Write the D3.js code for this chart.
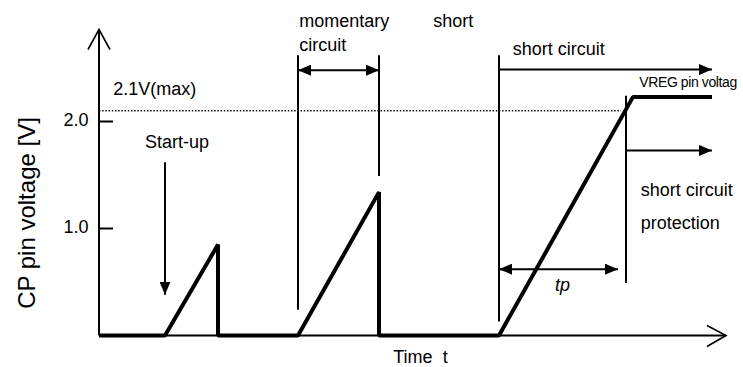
<!DOCTYPE html>
<html>
<head>
<meta charset="utf-8">
<script src="https://cdn.jsdelivr.net/npm/d3@7"></script>
<style>
  html, body { margin: 0; padding: 0; background: #fff; }
  svg { display: block; }
  text { font-family: "Liberation Sans", Arial, sans-serif; fill: #000; }
</style>
</head>
<body>
<svg id="chart" width="743" height="367"></svg>
<script>
// CP pin voltage waveform: time points and voltages (V)
const waveTime    = [0, 13.2, 23.8, 23.8, 39.8, 56, 56, 80, 106.8, 122.6];
const waveVoltage = [0, 0, 0.85, 0, 0, 1.34, 0, 0, 2.23, 2.23];

// Y-axis ticks and their labels
const yTicks = [1.0, 2.0];
const yTickLabels = ["1.0", "2.0"];

// Clamp threshold shown as a dotted level
const maxLevel = 2.1;
const maxLabel = "2.1V(max)";

// Event times used by the annotations
const tStartup = 13.2;
const tMomentStart = 39.8;
const tMomentEnd = 56;
const tShort = 80;
const tTpEnd = 103.8;
const tProtect = 105.4;
const tArrowEnd = 122.6;
const tDottedEnd = 104.4;
const tAxisEnd = 125;

const svg = d3.select("#chart");

const x = d3.scaleLinear().domain([0, 125]).range([99, 724]);
const y = d3.scaleLinear().domain([0, 3]).range([335.5, 14.5]);

// Arrowhead marker
const defs = svg.append("defs");
defs.append("marker")
  .attr("id", "head")
  .attr("viewBox", "0 0 13 11")
  .attr("refX", 13).attr("refY", 5.5)
  .attr("markerWidth", 13).attr("markerHeight", 11)
  .attr("markerUnits", "userSpaceOnUse")
  .attr("orient", "auto-start-reverse")
  .append("path").attr("d", "M0,0 L13,5.5 L0,11 Z").attr("fill", "#000");

// Axes
const axes = svg.append("g").attr("stroke", "#000").attr("fill", "none");
axes.append("line")
  .attr("x1", x(0)).attr("y1", y(0)).attr("x2", x(0)).attr("y2", y(0) - 306)
  .attr("stroke-width", 2);
axes.append("path")
  .attr("d", `M${x(0) - 11},${y(0) - 286} L${x(0)},${y(0) - 306} L${x(0) + 11},${y(0) - 286}`)
  .attr("stroke-width", 1.6);
axes.append("line")
  .attr("x1", x(0)).attr("y1", y(0)).attr("x2", x(tAxisEnd) + 2).attr("y2", y(0))
  .attr("stroke-width", 2);
axes.append("path")
  .attr("d", `M${x(tAxisEnd) - 17},${y(0) - 10} L${x(tAxisEnd) + 2},${y(0)} L${x(tAxisEnd) - 17},${y(0) + 11}`)
  .attr("stroke-width", 1.6);

// Y ticks and labels
yTicks.forEach((v, i) => {
  axes.append("line")
    .attr("x1", x(0)).attr("x2", x(0) + 14)
    .attr("y1", y(v)).attr("y2", y(v))
    .attr("stroke-width", 2);
  svg.append("text")
    .attr("x", 88.5).attr("y", y(v) + 4)
    .attr("text-anchor", "end")
    .attr("font-size", 18)
    .text(yTickLabels[i]);
});

// Y-axis title
svg.append("text")
  .attr("transform", "translate(35,213) rotate(-90)")
  .attr("text-anchor", "middle")
  .attr("font-size", 24)
  .text("CP pin voltage [V]");

// X-axis title
svg.append("text")
  .attr("x", 393.3).attr("y", 362.7)
  .attr("font-size", 18)
  .style("white-space", "pre")
  .text("Time  t");

// Dotted max level
svg.append("line")
  .attr("x1", x(0)).attr("x2", x(tDottedEnd))
  .attr("y1", y(maxLevel)).attr("y2", y(maxLevel))
  .attr("stroke", "#000").attr("stroke-width", 1.4)
  .attr("stroke-dasharray", "1.4,1.8");
svg.append("text")
  .attr("x", 113.3).attr("y", 95)
  .attr("font-size", 18)
  .text(maxLabel);

// Annotation lines
const ann = svg.append("g").attr("stroke", "#000").attr("stroke-width", 2).attr("fill", "none");
function vline(t, v1, v2) {
  ann.append("line").attr("x1", x(t)).attr("x2", x(t)).attr("y1", y(v1)).attr("y2", y(v2));
}
function arrow(t1, v1, t2, v2, both) {
  const l = ann.append("line")
    .attr("x1", x(t1)).attr("y1", y(v1)).attr("x2", x(t2)).attr("y2", y(v2))
    .attr("marker-end", "url(#head)");
  if (both) l.attr("marker-start", "url(#head)");
}

// Start-up arrow
arrow(tStartup, 1.62, tStartup, 0.38, false);
// Momentary short circuit span
vline(tMomentStart, 2.62, 0.24);
vline(tMomentEnd, 2.62, 1.49);
arrow(tMomentStart, 2.48, tMomentEnd, 2.48, true);
// Sustained short circuit
vline(tShort, 2.62, 0.13);
arrow(tShort, 2.485, tArrowEnd, 2.485, false);
// Protection trigger
vline(tProtect, 2.24, 0.49);
arrow(tProtect, 1.73, tArrowEnd, 1.73, false);
// tp span
arrow(tShort, 0.62, tTpEnd, 0.62, true);

// Waveform
const line = d3.line().x(d => x(d[0])).y(d => y(d[1]));
svg.append("path")
  .datum(waveTime.map((t, i) => [t, waveVoltage[i]]))
  .attr("d", line)
  .attr("fill", "none")
  .attr("stroke", "#000")
  .attr("stroke-width", 4)
  .attr("stroke-linejoin", "bevel");

// Annotation texts
const labels = [
  { text: "momentary", x: 299.3, y: 26.7 },
  { text: "circuit", x: 299.3, y: 50.7 },
  { text: "short", x: 433.3, y: 26.7 },
  { text: "short circuit", x: 512.7, y: 55 },
  { text: "Start-up", x: 145, y: 148.3 },
  { text: "short circuit", x: 640.7, y: 196 },
  { text: "protection", x: 640.7, y: 229 }
];
labels.forEach(d => {
  svg.append("text").attr("x", d.x).attr("y", d.y).attr("font-size", 18).text(d.text);
});
svg.append("text")
  .attr("x", 639.3).attr("y", 86.5)
  .attr("font-size", 14)
  .attr("letter-spacing", -0.4)
  .text("VREG pin voltag");
svg.append("text")
  .attr("x", 555).attr("y", 291)
  .attr("font-size", 18)
  .attr("font-style", "italic")
  .text("tp");
</script>
</body>
</html>
